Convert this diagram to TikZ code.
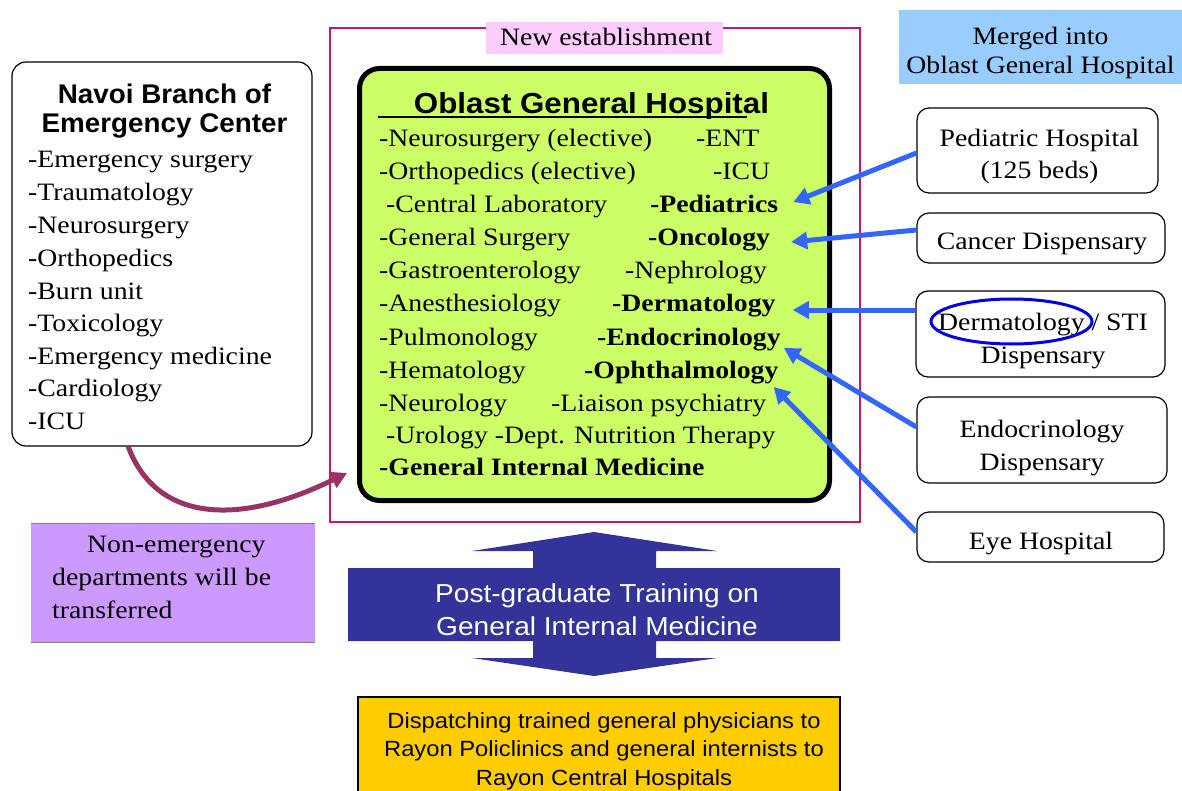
\documentclass[tikz,border=0pt]{standalone}
\usepackage{fontspec}
\setmainfont{Liberation Serif}[FakeStretch=1.11]
\newfontfamily\arial{Liberation Sans}[FakeStretch=1.08]
\newfontfamily\arialN{Liberation Sans}[FakeStretch=1.03]
\usetikzlibrary{arrows.meta,calc,shapes.geometric}
\definecolor{pinkframe}{RGB}{204,20,110}
\definecolor{pinklabel}{RGB}{255,204,255}
\definecolor{greenfill}{RGB}{204,255,102}
\definecolor{mergedblue}{RGB}{153,204,255}
\definecolor{purplefill}{RGB}{204,153,255}
\definecolor{navyarrow}{RGB}{51,51,153}
\definecolor{yellowfill}{RGB}{255,204,0}
\definecolor{arrowblue}{RGB}{51,102,255}
\definecolor{curvecol}{RGB}{153,51,102}
\definecolor{ellblue}{RGB}{0,0,230}
\tikzset{
  x=1pt, y=-1pt,
  tm/.style={inner sep=0pt, anchor=base west, font=\fontsize{25}{33}\selectfont},
  tmb/.style={tm, font=\fontsize{25}{33}\selectfont\bfseries},
  tc/.style={inner sep=0pt, anchor=base, align=center, font=\fontsize{25}{33}\selectfont},
  rbox/.style={draw=black, line width=1.2pt, rounded corners=12pt, fill=white, inner sep=0pt},
  bluearrow/.style={draw=arrowblue, line width=5pt, -{Triangle[length=16pt,width=17pt]}},
}
\begin{document}
\begin{tikzpicture}
\useasboundingbox (0,0) rectangle (1182,791);
% pink frame
\draw[pinkframe, line width=1.5pt] (330,28) rectangle (860,522);
\node[fill=pinklabel, minimum width=237pt, minimum height=32pt, inner sep=0pt] (newlab) at (604.5,38) {};
\node[tc] (newest) at (606,46) {New establishment};
% green box
\node[draw=black, line width=5pt, fill=greenfill, rounded corners=20pt,
  minimum width=470pt, minimum height=432pt, inner sep=0pt] (ogh) at (594.5,284.5) {};
\node[inner sep=0pt, anchor=base, font=\arial\bfseries\fontsize{29}{33}\selectfont] (ttl) at (591.5,113.5) {Oblast General Hospital};
\draw[line width=1.5pt] (378,117) -- (747,117);
% rows
\node[tm] (l1) at (379,147) {-Neurosurgery (elective)};
\node[tm] (r1) at (696,147) {-ENT};
\node[tm] (l2) at (379,180) {-Orthopedics (elective)};
\node[tm] (r2) at (713,180) {-ICU};
\node[tm] (l3) at (386,213) {-Central Laboratory};
\node[tmb] (r3) at (650,213) {-Pediatrics};
\node[tm] (l4) at (379,246) {-General Surgery};
\node[tmb] (r4) at (648,246) {-Oncology};
\node[tm] (l5) at (379,279) {-Gastroenterology};
\node[tm] (r5) at (625,279) {-Nephrology};
\node[tm] (l6) at (379,312) {-Anesthesiology};
\node[tmb] (r6) at (612,312) {-Dermatology};
\node[tm] (l7) at (379,345) {-Pulmonology};
\node[tmb] (r7) at (597,345) {-Endocrinology};
\node[tm] (l8) at (379,378) {-Hematology};
\node[tmb] (r8) at (584,378) {-Ophthalmology};
\node[tm] (l9) at (379,411) {-Neurology};
\node[tm] (r9) at (551,411) {-Liaison psychiatry};
\node[tm] (l10) at (386,443) {-Urology -Dept. Nutrition Therapy};
\node[tmb] (l11) at (379,475) {-General Internal Medicine};
% left box
\node[draw=black, line width=1.2pt, rounded corners=14pt, fill=white,
  minimum width=300pt, minimum height=384pt, inner sep=0pt] (navoi) at (162,254) {};
\node[inner sep=0pt, align=center, anchor=base, font=\arialN\bfseries\fontsize{27}{29}\selectfont] (navt) at (164.5,133) {Navoi Branch of\\Emergency Center};
\node[tm] (n1) at (28,168) {-Emergency surgery};
\node[tm] (n2) at (28,201) {-Traumatology};
\node[tm] (n3) at (28,234) {-Neurosurgery};
\node[tm] (n4) at (28,267) {-Orthopedics};
\node[tm] (n5) at (28,299) {-Burn unit};
\node[tm] (n6) at (28,331) {-Toxicology};
\node[tm] (n7) at (28,364) {-Emergency medicine};
\node[tm] (n8) at (28,396) {-Cardiology};
\node[tm] (n9) at (28,429) {-ICU};
% purple box
\fill[purplefill] (31,523) rectangle (315,642);
\draw[gray, line width=1pt] (31,523) -- (315,523) (31,642) -- (315,642);
\node[tm] (p1) at (87,552) {Non-emergency};
\node[tm] (p2) at (52,585) {departments will be};
\node[tm] (p3) at (52,618) {transferred};
\coordinate (cstart) at (128,446);
\coordinate (cend) at (347,473);
\draw[curvecol, line width=5pt, -{Triangle[length=16pt,width=17pt]}]
  (cstart) .. controls (155,520) and (235,528) .. (cend);
% double arrow
\fill[navyarrow] (594,532) -- (717,551) -- (656,551) -- (656,568) -- (840,568) -- (840,641)
  -- (656,641) -- (656,658) -- (717,658) -- (594,676) -- (472,658) -- (533,658) -- (533,641)
  -- (348,641) -- (348,568) -- (533,568) -- (533,551) -- (472,551) -- cycle;
\node[align=center, anchor=base, text=white, inner sep=0pt, font=\arial\fontsize{26}{33}\selectfont] (pgt) at (597,635)
  {Post-graduate Training on\\General Internal Medicine};
% yellow box
\fill[yellowfill] (358,697) rectangle (840,791);
\draw[black, line width=1.5pt] (358,792) -- (358,697) -- (840,697) -- (840,792);
\node[align=center, anchor=base, inner sep=0pt, font=\arial\fontsize{22}{28.5}\selectfont] (disp) at (604,785)
  {Dispatching trained general physicians to\\Rayon Policlinics and general internists to\\Rayon Central Hospitals};
% right side
\node[fill=mergedblue, minimum width=283pt, minimum height=74pt, inner sep=0pt] (merged) at (1040.5,47) {};
\node[tc, font=\fontsize{25}{28.5}\selectfont] (mergedt) at (1040.5,73.3) {Merged into\\Oblast General Hospital};
\node[rbox, minimum width=241pt, minimum height=85pt] (ped) at (1037.5,150.5) {};
\node[tc, font=\fontsize{25}{32}\selectfont] (pedt) at (1039.5,178.3) {Pediatric Hospital\\(125 beds)};
\node[rbox, minimum width=248pt, minimum height=50pt] (can) at (1041,238) {};
\node[tc] (cant) at (1042,250) {Cancer Dispensary};
\node[rbox, minimum width=249pt, minimum height=86pt] (der) at (1040.5,334) {};
\node[tc] (dert) at (1043,363.3) {Dermatology / STI\\Dispensary};
\node[draw=ellblue, line width=3pt, ellipse, minimum width=161pt, minimum height=45pt, inner sep=0pt] (ell) at (1011.5,321.5) {};
\node[rbox, minimum width=250pt, minimum height=86pt] (endo) at (1042,440) {};
\node[tc] (endot) at (1042,470) {Endocrinology\\Dispensary};
\node[rbox, minimum width=247pt, minimum height=50pt] (eye) at (1040.5,537) {};
\node[tc] (eyet) at (1041,549.3) {Eye Hospital};
% blue arrows
\draw[bluearrow] ([yshift=-2.5pt]ped.west) -- ([xshift=15pt,yshift=11pt]r3.base east);
\draw[bluearrow] ([yshift=8pt]can.west) -- ([xshift=21pt,yshift=4pt]r4.base east);
\draw[bluearrow] ([yshift=24pt]der.west) -- ([xshift=17pt,yshift=2pt]r6.base east);
\draw[bluearrow] ([yshift=13pt]endo.west) -- ([xshift=3pt,yshift=-3pt]r7.base east);
\draw[bluearrow] ([yshift=5pt]eye.west) -- ([xshift=-5pt,yshift=-9pt]r8.base east);
\end{tikzpicture}
\end{document}
